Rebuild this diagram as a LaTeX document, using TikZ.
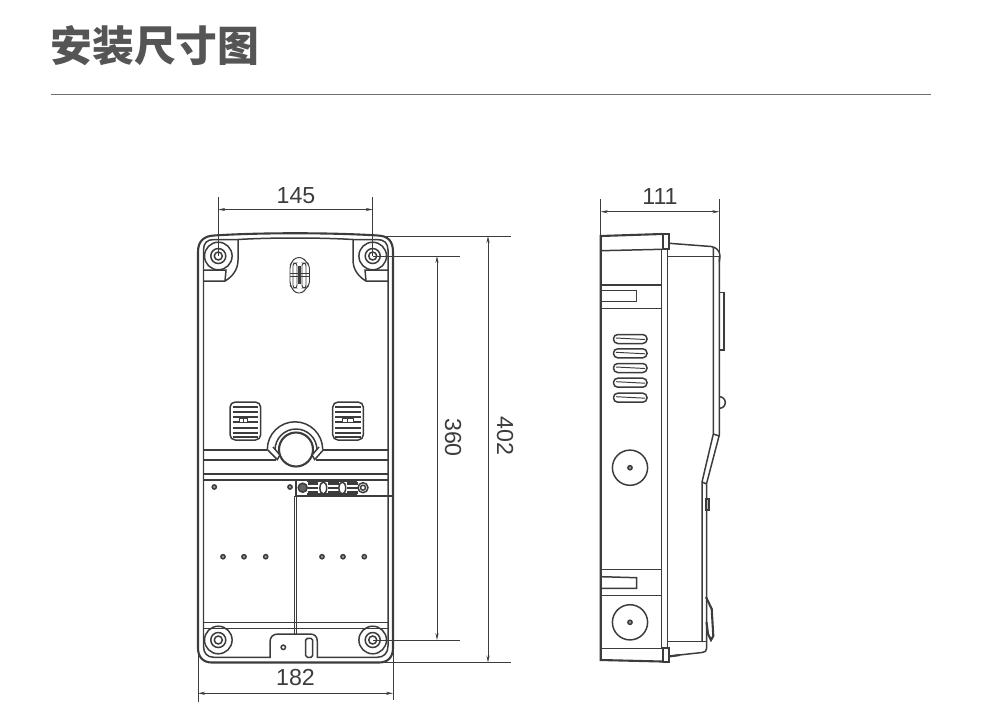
\documentclass[tikz,border=0pt]{standalone}
\usepackage{fontspec}
\newfontfamily\cjk{Noto Sans CJK SC}
\setsansfont{Liberation Sans}
\usetikzlibrary{arrows.meta}
\definecolor{inkgray}{HTML}{3C3C3C}
\definecolor{titlegray}{HTML}{555555}
\tikzset{
    outline/.style={draw=inkgray, line width=0.85pt},
    heavy/.style={draw=inkgray, line width=1.2pt},
    thinline/.style={draw=inkgray, line width=0.55pt},
    dimline/.style={
        draw=inkgray,
        line width=0.55pt,
        {Stealth[length=4pt, width=1.8pt]}-{Stealth[length=4pt, width=1.8pt]}
    },
    extline/.style={draw=inkgray, line width=0.55pt},
    dimtext/.style={font=\sffamily\fontsize{13.2}{14}\selectfont, text=inkgray, inner sep=0pt}
}
\begin{document}
\begin{tikzpicture}[x=0.02cm, y=-0.02cm]
    \useasboundingbox (0,0) rectangle (1000,724);

    \node[font=\cjk\bfseries\fontsize{23.8}{26}\selectfont, text=titlegray, inner sep=0pt] (title) at (155,46) {安装尺寸图};
    \draw[draw=titlegray!85, line width=1pt] (51,94.5) -- (931,94.5);

    \coordinate (SA) at (218.3,256);
    \coordinate (SB) at (372.7,256);
    \coordinate (SC) at (218.3,640);
    \coordinate (SD) at (372.7,640);

    \draw[heavy] (198,252) .. controls (198,241) and (204,236) .. (214,235.5)
        .. controls (260,232.5) and (330,232.5) .. (378,235.5)
        .. controls (388,236) and (393,241) .. (393,252) -- (393,648)
        .. controls (393,657) and (388,662.5) .. (379,662.5) -- (212,662.5)
        .. controls (203,662.5) and (198,657) .. (198,648) -- cycle;
    \draw[outline] (203.5,250) .. controls (203.5,243) and (207,239.5) .. (214,239.5) -- (238,239.5)
        .. controls (270,237.5) and (320,237.5) .. (353,239.5) -- (377,239.5)
        .. controls (384,239.5) and (388,243) .. (388,250) -- (388,646)
        .. controls (388,653) and (384,657.3) .. (377,657.3) -- (317.3,657.3) -- (317.3,641)
        .. controls (317.3,636) and (314,634) .. (310,634) -- (278,634)
        .. controls (273,634) and (270,637) .. (270,642) -- (270,657.3) -- (214,657.3)
        .. controls (207,657.3) and (203.5,653) .. (203.5,646) -- cycle;

    \draw[outline] (238,239.5) -- (238,260) .. controls (238,270) and (232,277) .. (225,281) -- (203.5,281);
    \draw[outline] (203.5,270) -- (226,270) -- (225,281);
    \draw[outline] (353,239.5) -- (353,260) .. controls (353,270) and (359,277) .. (366,281) -- (388,281);
    \draw[outline] (388,270) -- (365,270) -- (366,281);

    \foreach \pos in {SA,SB,SC,SD} {
        \draw[outline, fill=white] (\pos) circle[radius=13.8];
        \draw[outline] (\pos) circle[radius=7.5];
        \draw[outline] (\pos) circle[radius=4];
    }

    \draw[thinline, rounded corners=2pt] (292,262) -- (295,257.5) -- (303,257.5) -- (306,262) -- (309.5,265) -- (309.5,285) -- (306,288) -- (303,293) -- (295,293) -- (292,288) -- (290,285) -- (290,265) -- cycle;
    \draw[thinline, rounded corners=1.5pt] (293,263) rectangle (297,288);
    \draw[thinline, rounded corners=1.5pt] (302,263) rectangle (306,288);
    \draw[thinline] (290,273) -- (309.5,273);
    \draw[thinline] (290,276) -- (309.5,276);
    \draw[heavy] (299.5,266) -- (299.5,284);

    \foreach \ventx in {230,332.7} {
        \draw[outline, rounded corners=3pt] (\ventx,402) rectangle ++(30.7,38);
        \foreach \venty in {407,412,417,422,428,433,437} {
            \draw[outline] (\ventx+2.5,\venty) -- (\ventx+28.2,\venty);
        }
    }
    \draw[thinline, fill=white] (239,418.5) rectangle (247,422);
    \draw[thinline, fill=white] (342,418.5) rectangle (353,422);
    \draw[thinline] (243,418.5) -- (243,422);
    \draw[thinline] (347,418.5) -- (347,422);

    \draw[outline] (203.5,450) -- (267.3,450);
    \draw[outline] (322.7,450) -- (388,450);
    \draw[heavy] (203.5,460) -- (276,460);
    \draw[heavy] (316,460) -- (388,460);
    \draw[outline] (267.3,449.5) arc[start angle=180, end angle=360, radius=27.7];
    \draw[outline] (275,450) arc[start angle=180, end angle=360, radius=21];
    \draw[heavy] (296,449.5) circle[radius=17];
    \draw[outline] (267.3,449.5) -- (277.3,459.5) -- (280,455) -- (273,447);
    \draw[outline] (323.7,449.5) -- (314.7,459.5) -- (312,455) -- (319,447);

    \draw[heavy] (203.5,474.3) -- (388,474.3);
    \draw[outline] (203.5,480) -- (388,480);
    \draw[heavy] (294.5,496) -- (392,496);
    \draw[outline] (294.5,496) -- (294.5,634);
    \draw[outline] (296.5,496) -- (296.5,634);
    \draw[outline] (296,481) -- (296,496);

    \draw[outline, fill=inkgray!80] (302.7,487.7) circle[radius=4.5];
    \draw[outline] (363,487.7) circle[radius=5];
    \draw[outline] (363,487.7) circle[radius=2.5];
    \foreach \termx in {307.5,328,347} {
        \foreach \termy in {483.5,488,492.5} {
            \draw[heavy] (\termx,\termy) -- (\termx+10.5,\termy);
        }
    }
    \draw[outline] (307,481.5) -- (357,481.5);
    \draw[heavy] (307,494.5) -- (357,494.5);
    \draw[outline, fill=white] (323.3,488) ellipse[x radius=3.4, y radius=6];
    \draw[outline, fill=white] (342.3,488) ellipse[x radius=3.4, y radius=6];

    \foreach \dotx/\doty in {214.3/487, 290/487, 223/556.7, 244/556.7, 265.7/556.7, 322/556.7, 343/556.7, 364.3/556.7} {
        \draw[outline, fill=inkgray!50] (\dotx,\doty) circle[radius=2.1];
    }

    \draw[outline] (203.5,622.7) -- (388,622.7);
    \draw[outline] (203.5,628.3) -- (388,628.3);
    \draw[outline] (283.3,647.3) circle[radius=2.2];
    \draw[outline, rounded corners=1pt] (305.7,638.3) rectangle (312.7,657.3);

    % front view dimensions
    \coordinate (wa) at (218.3,209.5);
    \coordinate (wb) at (372.7,209.5);
    \coordinate (wc) at (198,693.3);
    \coordinate (wd) at (393,693.3);
    \coordinate (ha) at (437,256);
    \coordinate (hb) at (437,640);
    \coordinate (hc) at (488,236);
    \coordinate (hd) at (488,662.5);

    \draw[extline] (218.3,197) -- (SA);
    \draw[extline] (372.7,197) -- (SB);
    \draw[dimline] (wa) -- (wb);
    \node[dimtext] (w145) at (296,195.5) {145};

    \draw[extline] (198,650) -- (198,702);
    \draw[extline] (393,650) -- (393,700);
    \draw[dimline] (wc) -- (wd);
    \node[dimtext] (w182) at (295.5,678) {182};

    \draw[extline] (SB) -- (460,256);
    \draw[extline] (SD) -- (460,640);
    \draw[dimline] (ha) -- (hb);
    \node[dimtext, rotate=-90] (h360) at (453,437.5) {360};

    \draw[extline] (380,236) -- (511,236);
    \draw[extline] (372,662.5) -- (511,662.5);
    \draw[dimline] (hc) -- (hd);
    \node[dimtext, rotate=-90] (h402) at (505,436) {402};

    % side view
    \coordinate (da) at (600.7,211.7);
    \coordinate (db) at (719.3,211.7);
    \draw[extline] (600.7,199) -- (600.7,236);
    \draw[extline] (719.3,199) -- (719.3,256);
    \draw[dimline] (da) -- (db);
    \node[dimtext] (d111) at (660,197) {111};

    \draw[heavy] (662,234) -- (600.7,236) -- (600.7,660) -- (662,661.5);
    \draw[outline] (600.7,250.7) -- (662,249.3);
    \draw[outline] (661.7,249) -- (661.7,648);
    \draw[outline] (667.7,249) -- (667.7,648);
    \draw[heavy] (662.7,234) rectangle (669.3,249.3);
    \draw[heavy] (662.7,648.3) rectangle (668.7,662);
    \draw[outline] (600.7,648.3) -- (661.7,648.3);

    \draw[outline] (600.7,285) -- (661.7,285);
    \draw[outline] (600.7,308.3) -- (661.7,308.3);
    \draw[outline] (600.7,290.7) -- (636.7,290.7) -- (636.7,301.7) -- (600.7,301.7);
    \draw[outline] (600.7,569.3) -- (661.7,569.3);
    \draw[outline] (600.7,595.7) -- (661.7,595.7);
    \draw[outline] (601.5,576.7) -- (636.7,577.7) -- (636.7,588.3) -- (601.5,588.3);

    \foreach \sloty in {339,353.3,368,382.7,397.7} {
        \draw[outline, rounded corners=2.4pt] (613.5,\sloty-4.5) rectangle (647,\sloty+4.5);
        \draw[thinline] (616,\sloty-1) -- (645,\sloty+0.5);
    }

    \foreach \holey in {467.7,622.3} {
        \draw[outline] (630,\holey) circle[radius=17.6];
        \draw[outline, fill=inkgray!50] (630,\holey) circle[radius=2.1];
    }

    \draw[outline] (669.3,243.3) -- (711,246.5) .. controls (716,247) and (720,251) .. (720,256) -- (719.3,262);
    \draw[outline] (667.7,256.7) -- (720,256.7);
    \draw[outline] (713.3,247) -- (713.3,434) -- (702,482) -- (702,642);
    \draw[outline] (719.3,256.7) -- (719.3,435) -- (718,440) -- (706.7,483) -- (706.7,648)
        .. controls (706.7,651) and (705,652.3) .. (702,652.5) -- (670,656);
    \draw[outline] (713.3,434) -- (719.3,436);
    \draw[outline] (702,482) -- (706.7,484);
    \draw[outline] (667.7,641.7) -- (706.7,641.7);
    \draw[heavy] (669,656.5) -- (680,655);

    \draw[outline] (719.3,292.7) -- (724,292.7) -- (724,350) -- (719.3,350);
    \draw[outline] (719.5,396.7) arc[start angle=-90, end angle=90, radius=5.8];
    \draw[outline] (705.7,499) rectangle (709,510);
    \draw[heavy] (706,597) -- (711.7,609) -- (713.3,636) -- (711,640) -- (708,634) -- (706.5,622);
\end{tikzpicture}
\end{document}
